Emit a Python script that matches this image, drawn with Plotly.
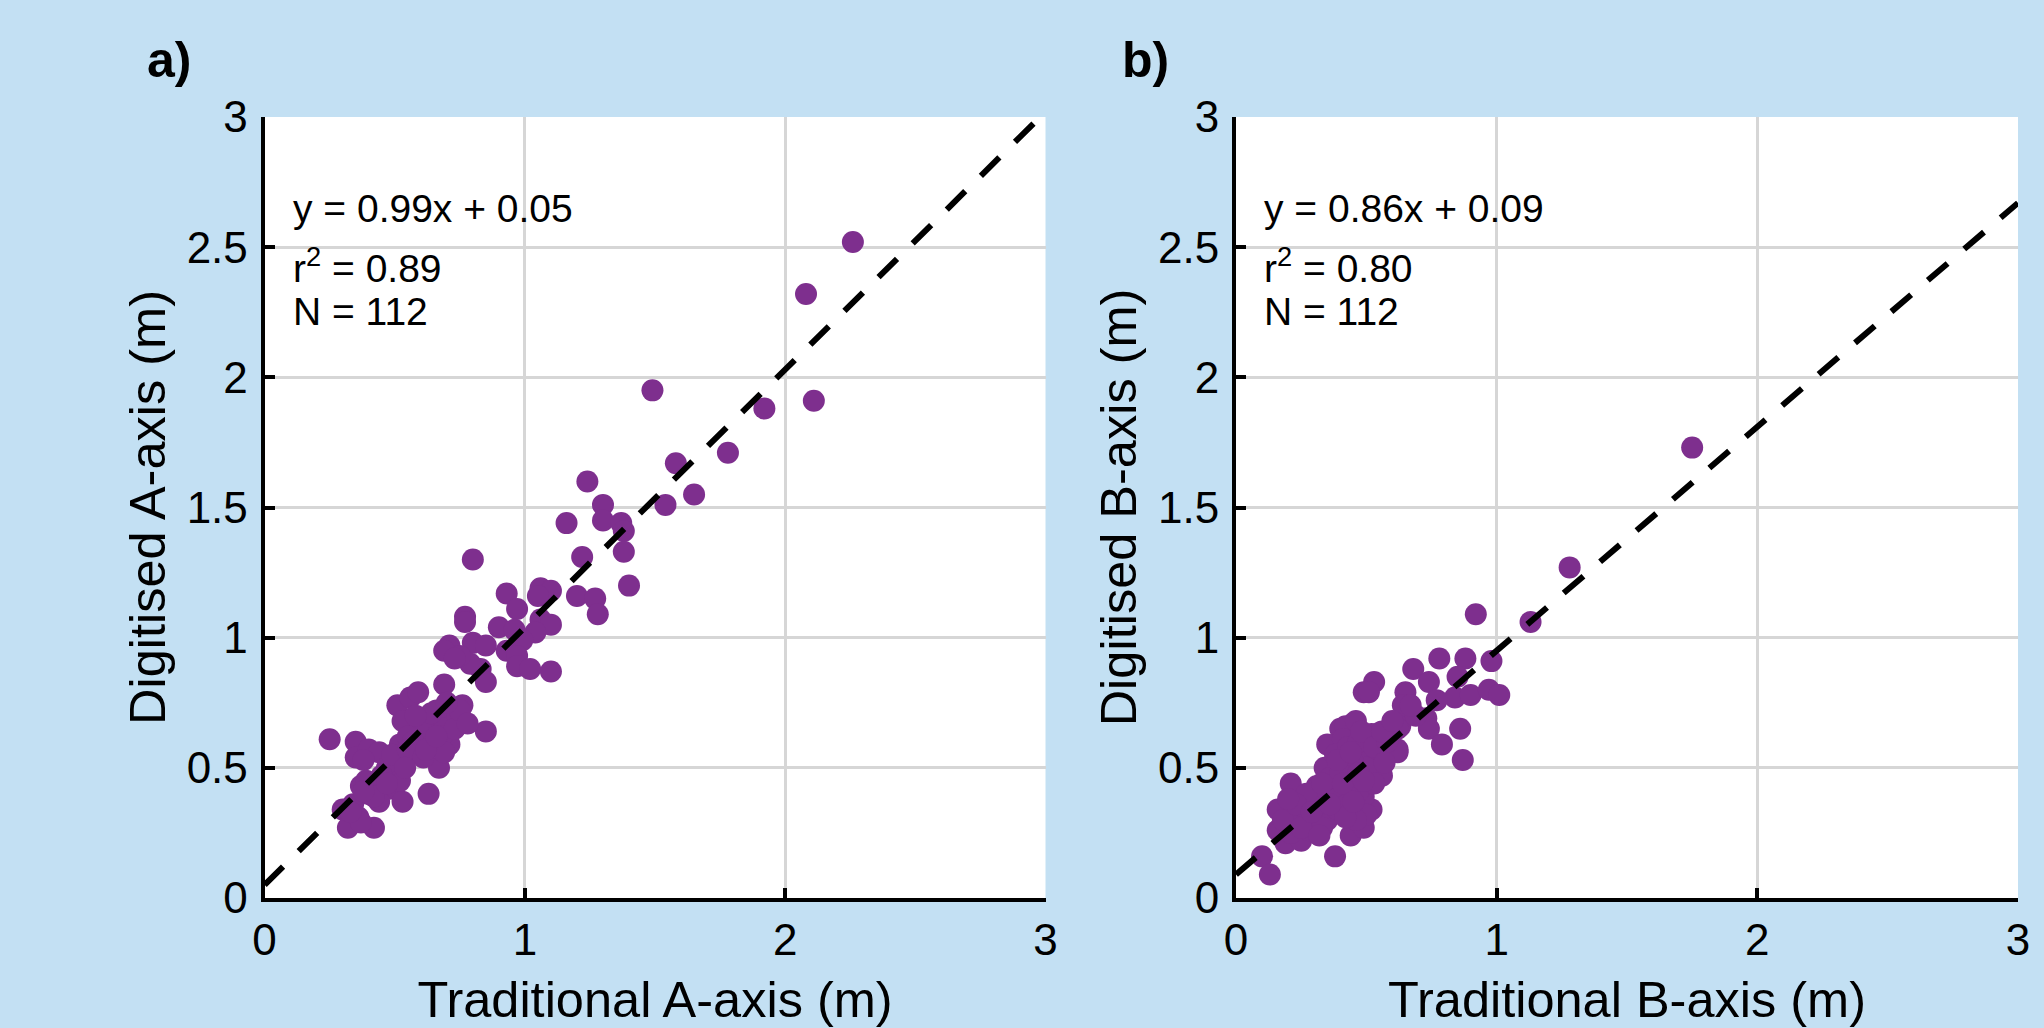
import plotly.graph_objects as go

# ---------------- data ----------------
trad_a = [2.26, 2.08, 2.11, 1.92, 1.49, 1.78, 1.58, 1.65, 1.54, 1.24, 1.16, 1.30, 1.30, 1.37, 1.38, 1.38, 1.40, 1.22, 1.20, 1.27, 1.28,
          0.80, 0.93, 1.06, 1.10, 1.05, 0.97, 0.77, 0.77, 0.90, 0.96, 1.06, 1.10, 1.04, 0.99, 0.71, 0.80, 0.85, 0.93, 0.97, 0.97,
          1.02, 1.10, 0.83, 0.85, 0.79, 0.75, 0.69, 0.69, 0.73,
          0.25, 0.35, 0.35, 0.40, 0.44, 0.38, 0.51, 0.56, 0.59, 0.53, 0.66, 0.76, 0.71, 0.85, 0.64, 0.52, 0.58, 0.65, 0.71, 0.67,
          0.51, 0.47, 0.37, 0.43, 0.48, 0.53, 0.44, 0.63, 0.30, 0.34, 0.36, 0.32, 0.42, 0.37, 0.39, 0.69, 0.74, 0.62, 0.60, 0.55,
          0.45, 0.40, 0.57, 0.68, 0.73, 0.75, 0.64, 0.69, 0.33, 0.42, 0.49, 0.55, 0.61, 0.78, 0.70, 0.58, 0.52, 0.62, 0.47, 0.38,
          0.66, 0.54]
digi_a = [2.52, 2.32, 1.91, 1.88, 1.95, 1.71, 1.67, 1.55, 1.51, 1.60, 1.44, 1.51, 1.45, 1.44, 1.41, 1.33, 1.20, 1.31, 1.16, 1.15, 1.09,
          1.30, 1.17, 1.19, 1.18, 1.16, 1.11, 1.08, 1.06, 1.04, 1.03, 1.07, 1.05, 1.02, 0.99, 0.97, 0.98, 0.97, 0.95, 0.93, 0.89,
          0.88, 0.87, 0.88, 0.83, 0.90, 0.93, 0.95, 0.82, 0.92,
          0.61, 0.60, 0.54, 0.57, 0.56, 0.53, 0.74, 0.77, 0.79, 0.68, 0.72, 0.74, 0.68, 0.64, 0.67, 0.59, 0.56, 0.58, 0.59, 0.50,
          0.53, 0.50, 0.43, 0.42, 0.42, 0.37, 0.37, 0.40, 0.34, 0.36, 0.31, 0.27, 0.27, 0.29, 0.45, 0.65, 0.70, 0.62, 0.66, 0.62,
          0.47, 0.40, 0.60, 0.62, 0.65, 0.72, 0.71, 0.56, 0.33, 0.39, 0.55, 0.57, 0.54, 0.67, 0.75, 0.70, 0.45, 0.57, 0.44, 0.41,
          0.62, 0.50]

trad_b = [1.75, 1.28, 1.13, 0.92, 0.78, 0.88, 0.98, 0.68, 0.85, 0.74, 0.53, 0.49, 0.65, 0.84, 0.90, 0.97, 1.01, 0.77, 0.67, 0.73,
          0.74, 0.86, 0.79, 0.87, 0.63, 0.64, 0.62, 0.54, 0.54, 0.69, 0.45, 0.40, 0.35, 0.50, 0.36, 0.31, 0.21, 0.16, 0.16, 0.19,
          0.25, 0.31, 0.37, 0.44, 0.49, 0.52, 0.38, 0.10, 0.13, 0.26, 0.44, 0.49, 0.40, 0.24, 0.29, 0.35, 0.34, 0.31, 0.34, 0.42,
          0.47, 0.50, 0.46, 0.39, 0.42, 0.46, 0.41, 0.52, 0.55, 0.56, 0.50, 0.62, 0.62, 0.67, 0.51, 0.21, 0.22, 0.27, 0.28, 0.33,
          0.37, 0.30, 0.43, 0.45, 0.38, 0.43, 0.47, 0.48, 0.53, 0.58, 0.36, 0.40, 0.27, 0.18, 0.23, 0.33, 0.41, 0.47, 0.53, 0.57,
          0.25, 0.20, 0.42, 0.45, 0.39, 0.44, 0.49, 0.56, 0.60, 0.29, 0.32, 0.36]
digi_b = [1.73, 1.27, 1.06, 1.09, 0.92, 0.92, 0.91, 0.88, 0.85, 0.83, 0.83, 0.79, 0.79, 0.77, 0.78, 0.80, 0.78, 0.76, 0.72, 0.69,
          0.65, 0.65, 0.59, 0.53, 0.66, 0.74, 0.56, 0.63, 0.47, 0.70, 0.67, 0.65, 0.59, 0.56, 0.50, 0.43, 0.44, 0.34, 0.26, 0.21,
          0.22, 0.30, 0.33, 0.24, 0.27, 0.34, 0.16, 0.16, 0.09, 0.38, 0.43, 0.39, 0.35, 0.30, 0.29, 0.30, 0.38, 0.42, 0.50, 0.42,
          0.41, 0.32, 0.30, 0.34, 0.66, 0.68, 0.61, 0.63, 0.54, 0.47, 0.50, 0.57, 0.65, 0.74, 0.79, 0.25, 0.32, 0.34, 0.26, 0.27,
          0.40, 0.35, 0.36, 0.52, 0.55, 0.58, 0.60, 0.64, 0.58, 0.60, 0.46, 0.48, 0.40, 0.30, 0.36, 0.44, 0.44, 0.48, 0.44, 0.52,
          0.27, 0.38, 0.31, 0.37, 0.53, 0.56, 0.45, 0.64, 0.68, 0.33, 0.24, 0.36]

fit_a = (0.99, 0.05)   # slope, intercept
fit_b = (0.86, 0.09)
fit_x = [0, 3]

stats_a = ["y = 0.99x + 0.05", "r<sup>2</sup> = 0.89", "N = 112"]
stats_b = ["y = 0.86x + 0.09", "r<sup>2</sup> = 0.80", "N = 112"]

x_ticks = [0, 1, 2, 3]
x_ticklabels = ["0", "1", "2", "3"]
y_ticks = [0, 0.5, 1, 1.5, 2, 2.5, 3]
y_ticklabels = ["0", "0.5", "1", "1.5", "2", "2.5", "3"]

panel_labels = ["a)", "b)"]
x_titles = ["Traditional A-axis (m)", "Traditional B-axis (m)"]
y_titles = ["Digitised A-axis (m)", "Digitised B-axis (m)"]

# ---------------- style ----------------
W, H = 2044, 1028
BG = "rgb(195,224,243)"
PURPLE = "rgb(126,47,142)"
GRID = "rgb(214,214,214)"
FONT = "Liberation Sans, Arial, Helvetica, sans-serif"

fig = go.Figure()

panels = [
    (trad_a, digi_a, fit_a, "x", "y"),
    (trad_b, digi_b, fit_b, "x2", "y2"),
]
for xs, ys, (m, c), xr, yr in panels:
    fig.add_trace(go.Scatter(
        x=xs, y=ys, mode="markers", xaxis=xr, yaxis=yr,
        marker=dict(color=PURPLE, size=22, line=dict(width=0)),
        showlegend=False, hoverinfo="x+y"))
    fig.add_trace(go.Scatter(
        x=fit_x, y=[m * v + c for v in fit_x], mode="lines", xaxis=xr, yaxis=yr,
        line=dict(color="black", width=6, dash="26px,22px"),
        showlegend=False, hoverinfo="skip"))


def axis_common():
    return dict(
        showline=True, linecolor="black", linewidth=4,
        ticks="inside", ticklen=10, tickwidth=4, tickcolor="black",
        showgrid=True, gridcolor=GRID, gridwidth=3,
        zeroline=False, range=[0, 3], automargin=False,
        tickfont=dict(family=FONT, size=44, color="black"),
    )


xdoms = [[264.6 / W, 1045.5 / W], [1236 / W, 2018 / W]]
ydom = [1 - 898 / H, 1 - 117 / H]

for i, (xk, yk) in enumerate([("xaxis", "yaxis"), ("xaxis2", "yaxis2")]):
    xa = axis_common()
    xa.update(domain=xdoms[i], tickmode="array", tickvals=x_ticks, ticktext=x_ticklabels,
              anchor="y" if i == 0 else "y2", ticklabelstandoff=0,
              title=dict(text=x_titles[i], font=dict(family=FONT, size=50.5, color="black"), standoff=30))
    ya = axis_common()
    ya.update(domain=ydom, tickmode="array", tickvals=y_ticks, ticktext=y_ticklabels,
              anchor="x" if i == 0 else "x2", ticklabelstandoff=4,
              title=dict(text=y_titles[i], font=dict(family=FONT, size=50.5, color="black"), standoff=6))
    fig.update_layout({xk: xa, yk: ya})

annotations = []
# statistics text
line_y = [2.647, 2.428, 2.251]
for stats, xr, yr in [(stats_a, "x", "y"), (stats_b, "x2", "y2")]:
    for t, yy in zip(stats, line_y):
        annotations.append(dict(
            text=t, x=0.1, y=yy, xref=xr, yref=yr, xanchor="left", yanchor="middle",
            showarrow=False, font=dict(family=FONT, size=39, color="black")))
# panel labels
for lab, px in zip(panel_labels, [169, 1145]):
    annotations.append(dict(
        text="<b>" + lab + "</b>", x=px / W, y=1 - 60 / H, xref="paper", yref="paper",
        xanchor="center", yanchor="middle", showarrow=False,
        font=dict(family=FONT, size=50, color="black")))

fig.update_layout(
    width=W, height=H,
    margin=dict(l=0, r=0, t=0, b=0, pad=0, autoexpand=False),
    paper_bgcolor=BG, plot_bgcolor="white",
    annotations=annotations,
    font=dict(family=FONT, color="black"),
)

fig.write_html("out.html", config={"displayModeBar": False},
               post_script="document.body.style.margin='0px';document.body.style.overflow='hidden';")
